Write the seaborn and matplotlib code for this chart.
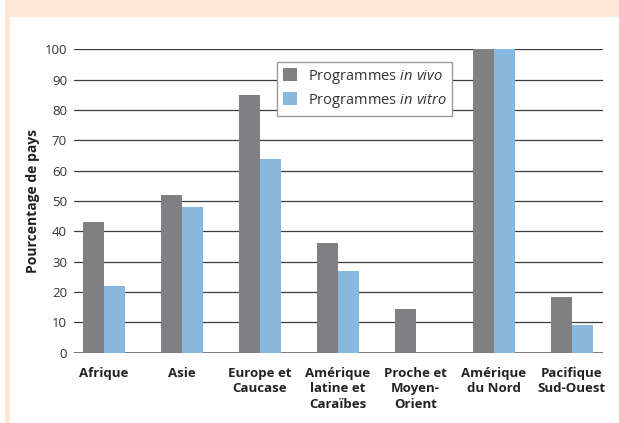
import matplotlib
matplotlib.use("Agg")
import matplotlib.pyplot as plt
import seaborn as sns
import pandas as pd
from matplotlib.patches import Rectangle

# ---- data ----
regions = ["Afrique", "Asie", "Europe et\nCaucase", "Amérique\nlatine et\nCaraïbes",
           "Proche et\nMoyen-\nOrient", "Amérique\ndu Nord", "Pacifique\nSud-Ouest"]
in_vivo = [43, 52, 85, 36, 14.4, 100, 18.3]
in_vitro = [22, 48, 64, 27, 0, 100, 9.1]
series = ["in vivo", "in vitro"]
y_ticks = [0, 10, 20, 30, 40, 50, 60, 70, 80, 90, 100]

df = pd.DataFrame({
    "region": regions * 2,
    "serie": [series[0]] * len(regions) + [series[1]] * len(regions),
    "value": in_vivo + in_vitro,
})

sns.set_theme(style="white")
FONT = "Open Sans"
plt.rcParams["font.family"] = [FONT, "DejaVu Sans"]
plt.rcParams["mathtext.fontset"] = "custom"
plt.rcParams["mathtext.rm"] = FONT
plt.rcParams["mathtext.it"] = FONT + ":italic"

W, H = 619, 423
fig = plt.figure(figsize=(W / 100, H / 100), dpi=100)
fig.patch.set_facecolor("white")

peach = "#fde9d6"
fig.add_artist(Rectangle((5 / W, 1 - 17 / H), 1, 17 / H, transform=fig.transFigure,
                         facecolor=peach, edgecolor="none", zorder=0))
fig.add_artist(Rectangle((5 / W, 0), 5 / W, 1 - 17 / H, transform=fig.transFigure,
                         facecolor=peach, edgecolor="none", zorder=0))

left, right = 74 / W, 603 / W
bottom, top = 1 - 352.7 / H, 1 - 49.3 / H
ax = fig.add_axes([left, bottom, right - left, top - bottom])
ax.set_facecolor("none")

palette = {series[0]: "#808083", series[1]: "#88b8dd"}
sns.barplot(data=df, x="region", y="value", hue="serie", palette=palette,
            width=0.54, ax=ax, saturation=1, linewidth=0, zorder=3)

ax.set_ylim(0, 100)
ax.set_xlim(-0.38, 6.40)
ax.set_yticks(y_ticks)
ax.set_yticklabels([str(t) for t in y_ticks], fontsize=9.5, color="#333333")
ax.set_xticks(range(len(regions)))
ax.set_xticklabels(regions, fontsize=9.5, fontweight="bold", color="#222222",
                   linespacing=1.25)
ax.tick_params(axis="x", length=0, pad=10)
ax.tick_params(axis="y", length=0, pad=5)
for yv in y_ticks:
    ax.axhline(yv, color="#3c3c3c" if yv else "#6e6e6e", lw=0.9 if yv else 1.3, zorder=1)
for s in ax.spines.values():
    s.set_visible(False)
ax.set_xlabel("")
ax.set_ylabel("Pourcentage de pays", fontsize=10, fontweight="bold", color="#222222",
              labelpad=3)

handles, _ = ax.get_legend_handles_labels()
labels = [r"Programmes $\mathit{in\ vivo}$", r"Programmes $\mathit{in\ vitro}$"]
leg = ax.legend(handles, labels, loc="upper left",
                bbox_to_anchor=((277 - 74) / 529, (352.7 - 62) / 303.4),
                fontsize=10.5, frameon=True, fancybox=False, framealpha=1,
                edgecolor="#999999", handlelength=1.0, handleheight=1.0,
                handletextpad=0.7, borderpad=0.4, labelspacing=0.4,
                borderaxespad=0)
leg.get_frame().set_linewidth(1.0)
leg.set_zorder(5)
for t in leg.get_texts():
    t.set_color("#333333")

fig.savefig("out.png", dpi=100)
